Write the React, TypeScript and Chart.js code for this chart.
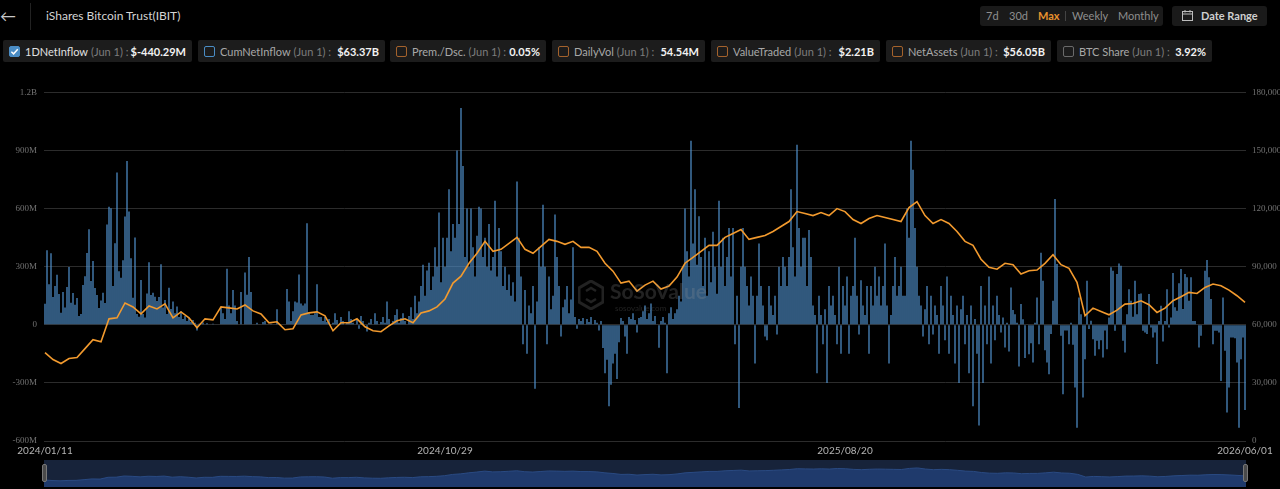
import React, { useEffect, useRef } from 'react';
import { Chart, registerables } from 'chart.js';

Chart.register(...registerables);

// Daily net inflow, millions of USD (one bar per trading day)
const netInflowM: number[] = [
  109, 385, 210, 369, 144, 200, 258, 159, 62, 169,
  89, 195, 298, 114, 164, 103, 138, 46, 56, 205,
  251, 371, 494, 226, 330, 190, 154, 87, 125, 166,
  113, 518, 610, 602, 200, 421, 786, 277, 243, 333,
  559, 846, 585, 343, 140, 451, 56, 41, 231, 56,
  38, 161, 323, 154, 166, 145, 123, 144, 313, 89,
  128, 56, 191, 82, 120, 60, 95, 40, 70, 30,
  45, 20, 35, 15, 25, 10, -30, 5, 0, 12,
  0, 8, 0, 0, 5, 0, 3, 0, 90, 60,
  30, 290, 100, 60, 180, 100, 20, 0, 170, 0,
  270, 155, 350, 170, 0, 0, 10, 0, 0, 15,
  20, 0, 0, 5, 0, 0, 80, 0, 0, 0,
  0, 185, 120, 20, 70, 120, 115, 260, 110, 100,
  110, 525, 60, 50, 50, 60, 210, 40, 40, 20,
  40, 15, 30, 0, 10, 60, 25, 0, 40, 20,
  0, 15, 70, 30, 10, 0, 25, -20, 45, 20,
  0, -35, 10, 30, 0, 60, 20, 0, 15, 40,
  10, 120, 30, 0, 20, 50, 80, 10, 35, 60,
  20, 0, 45, 90, 30, 150, 60, 120, 200, 310,
  150, 280, 320, 180, 250, 400, 300, 580, 220, 450,
  300, 450, 700, 380, 520, 450, 900, 520, 1120, 820,
  350, 600, 300, 600, 400, 250, 460, 610, 600, 350,
  450, 300, 520, 280, 350, 640, 250, 500, 380, 200,
  300, 180, 260, 150, 220, 120, 740, 450, 250, -100,
  180, -150, 100, 60, 200, -330, 120, 400, 300, 620,
  300, -100, 250, 80, 150, 570, 350, 200, -60, 90,
  130, 200, 60, 130, 400, 40, -20, 30, 20, 35,
  0, 30, 15, 40, 0, 25, 10, -30, 20, -120,
  -250, -180, -420, -310, -200, -150, -280, -90, 35, 20,
  -60, -150, 40, 30, 60, 25, -40, 35, 40, 70,
  100, 30, 60, 110, 20, 45, 0, -118, 20, 40,
  10, -250, 60, 90, 30, 60, 80, 150, 120, 300,
  600, 380, 250, 950, 420, 700, 310, 560, 350, 200,
  450, 150, 380, 220, 480, 300, 160, 640, 300, 450,
  200, 350, 500, 250, 500, -100, 150, -430, 300, 500,
  300, 200, 100, 250, 150, -200, 150, 420, 200, 100,
  -60, -80, 200, 100, 50, 150, -50, 300, 200, 350,
  300, 200, 350, 700, 400, 250, 930, 500, 300, 450,
  450, 200, 490, 350, 100, 50, -250, 150, 50, -100,
  80, -300, 200, 100, 150, 50, -100, 300, -150, 200,
  100, 250, -150, 150, 200, 450, 150, -50, 230, 100,
  50, 200, -150, 200, 100, 300, 150, 250, 100, 200,
  420, 100, -200, 50, 200, 350, 150, 200, 300, 150,
  150, 600, 450, 950, 800, 500, 300, 150, 100, -60,
  80, 200, -100, 150, -50, 100, 50, -150, 200, 100,
  -80, 250, -150, 150, 50, -200, 100, -300, 80, 150,
  -100, 50, -250, 100, -420, 30, -150, -520, 200, -300,
  100, -100, 250, -200, 100, -80, 150, 50, -40,
  38, -117, 10, -138, 193, 76, 55, 10, -215, 107,
  29, -172, 0, -152, -95, -195, 10, 141, -100, 372,
  228, -131, -195, -255, -48, 124, 650, 314, 0, -57,
  -359, -30, -30, -100, 10, -103, -324, -531, 141, 55,
  -376, -178, 228, -22, 21, -74, -160, -83, -126, -80,
  -169, -30, -126, 38, 297, 279, -31, 262, 317, 305,
  -83, -143, 55, 184, 124, 41, 228, 55, 159, 162,
  -31, -40, -48, 159, -14, -66, -40, -203, 20, 98,
  -86, 20, 184, -14, 38, 267, 90, 72, 214, 288,
  81, 262, 245, 124, 245, 20, 20, 0, -117, -57,
  0, 279, 334, 245, 133, -100, -31, -31, -40, -290,
  141, -134, -453, -324, -66, -66, -70, -195, -531, -178,
  -66, -440.29,
];

// BTC price (USD), sampled every PRICE_STEP trading days
const PRICE_STEP = 4;
const btcPrice: number[] = [
  45640, 42050, 40000, 42560, 43080, 47690, 52300, 51280, 63080, 63600,
  71280, 69230, 65640, 69740, 68200, 70770, 63590, 66670, 63590, 58460,
  63080, 62560, 69230, 68720, 68200, 70260, 67180, 65640, 61030, 61540,
  57440, 57950, 65130, 66150, 66670, 64620, 56920, 61030, 61030, 63080,
  58970, 56920, 56410, 59490, 62050, 63080, 61030, 66150, 67180, 69230,
  73330, 81540, 85130, 91790, 96920, 103080, 97950, 98970, 102050, 105130,
  98970, 96920, 100510, 104100, 103080, 101540, 103080, 100000, 100000, 97950,
  91790, 87690, 81540, 82560, 77430, 80510, 82560, 78460, 80000, 84610,
  91790, 94870, 97950, 101030, 101030, 105130, 107180, 109230, 104100, 105130,
  106150, 108200, 110770, 113330, 118460, 117430, 116410, 117950, 116410, 120000,
  118460, 114360, 112310, 114870, 116410, 115380, 114360, 113330, 120510, 123590,
  116410, 112310, 114360, 112310, 108200, 103080, 101030, 93850, 89740, 88720,
  91790, 91030, 86200, 87930, 88270, 91700, 96200, 91030, 89140, 81900,
  64650, 68620, 66900, 65170, 67590, 70690, 71030, 72410, 70340, 66380,
  68620, 72410, 74480, 76720, 76200, 79310, 81030, 80170, 77930, 75000,
  71550,
];

const xTickIndex = [0, 200, 400, 600];
const xTickLabels = ['2024/01/11', '2024/10/29', '2025/08/20', '2026/06/01'];

const seriesNames = ['1DNetInflow', 'CumNetInflow', 'Prem./Dsc.', 'DailyVol', 'ValueTraded', 'NetAssets', 'BTC Share'];
const seriesValues = ['$-440.29M', '$63.37B', '0.05%', '54.54M', '$2.21B', '$56.05B', '3.92%'];
const seriesChecked = [true, false, false, false, false, false, false];
const seriesDate = '(Jun 1) :';
const rangeButtons = ['7d', '30d', 'Max', 'Weekly', 'Monthly'];

// layout only (chip left / width in px)
const chipBoxes: [number, number][] = [[3, 189], [198, 187], [390, 156], [552, 153], [711, 169], [886, 165], [1057, 155]];
const chipColors = ['#4a8cc4', '#4a8cc4', '#a4622c', '#a4622c', '#a4622c', '#a4622c', '#6a6a6a'];

const FONT = 'Lato, "Noto Sans", sans-serif';
const AXIS_FONT = '"Liberation Serif", serif';

export default function App() {
  const mainRef = useRef<HTMLCanvasElement | null>(null);
  const navRef = useRef<HTMLCanvasElement | null>(null);

  useEffect(() => {
    document.body.style.margin = '0';
    document.body.style.background = '#000';
    const n = netInflowM.length;
    const barData = netInflowM.map((v, i) => ({ x: i, y: v }));
    const priceData = btcPrice.map((v, k) => ({ x: k * PRICE_STEP, y: v }));

    const main = new Chart(mainRef.current as HTMLCanvasElement, {
      type: 'bar',
      data: {
        datasets: [
          {
            type: 'line',
            data: priceData,
            yAxisID: 'y1',
            borderColor: '#f29a2e',
            borderWidth: 1.6,
            pointRadius: 0,
            tension: 0,
            order: 0,
          } as any,
          {
            type: 'bar',
            data: barData,
            yAxisID: 'y',
            backgroundColor: '#4f8fca',
            barPercentage: 0.62,
            categoryPercentage: 1,
            order: 1,
          } as any,
        ],
      },
      options: {
        animation: false,
        responsive: false,
        maintainAspectRatio: false,
        layout: { padding: { top: 10, left: 0, right: 0, bottom: 0 } },
        plugins: { legend: { display: false }, tooltip: { enabled: false } },
        scales: {
          x: {
            type: 'linear',
            offset: false,
            min: -0.5,
            max: n - 0.5,
            grid: { display: false, drawTicks: false, offset: false },
            border: { display: false },
            afterBuildTicks: (s: any) => {
              s.ticks = xTickIndex.map((v) => ({ value: v }));
            },
            afterFit: (s: any) => {
              s.height = 19;
            },
            ticks: {
              autoSkip: false,
              maxRotation: 0,
              padding: 4,
              color: '#b4b4b4',
              font: { family: FONT, size: 10 },
              callback: (v: any) => {
                const idx = xTickIndex.indexOf(Number(v));
                return idx >= 0 ? xTickLabels[idx] : '';
              },
            },
          },
          y: {
            position: 'left',
            min: -600,
            max: 1200,
            grid: { color: '#2c2c2c', drawTicks: false, lineWidth: 1 },
            border: { display: false },
            afterFit: (s: any) => {
              s.width = 44;
            },
            ticks: {
              stepSize: 300,
              padding: 7,
              color: '#727272',
              font: { family: AXIS_FONT, size: 9 },
              callback: (v: any) => {
                const num = Number(v);
                if (num === 0) return '0';
                if (Math.abs(num) >= 1000) return num / 1000 + 'B';
                return num + 'M';
              },
            },
          },
          y1: {
            position: 'right',
            min: 0,
            max: 180000,
            grid: { display: false, drawTicks: false },
            border: { display: false },
            afterFit: (s: any) => {
              s.width = 34;
            },
            ticks: {
              stepSize: 30000,
              padding: 6,
              color: '#727272',
              font: { family: AXIS_FONT, size: 9 },
              callback: (v: any) => Number(v).toLocaleString('en-US'),
            },
          },
        },
      },
    });

    const nav = new Chart(navRef.current as HTMLCanvasElement, {
      type: 'line',
      data: {
        datasets: [
          {
            data: priceData,
            borderColor: '#2a4a82',
            borderWidth: 1,
            backgroundColor: '#1f3a6c',
            fill: 'origin',
            pointRadius: 0,
            tension: 0,
          },
        ],
      },
      options: {
        animation: false,
        responsive: false,
        maintainAspectRatio: false,
        layout: { padding: 0 },
        plugins: { legend: { display: false }, tooltip: { enabled: false } },
        scales: {
          x: { type: 'linear', display: false, offset: false, min: 0, max: n - 1 },
          y: { display: false, min: 0, max: 175000 },
        },
      },
    });

    return () => {
      main.destroy();
      nav.destroy();
    };
  }, []);

  const check = (
    <svg width="9" height="9" viewBox="0 0 10 10" style={{ display: 'block' }}>
      <path d="M1.5 5.2 L4 7.6 L8.6 2.4" stroke="#fff" strokeWidth="1.6" fill="none" />
    </svg>
  );

  return (
    <div
      style={{
        position: 'absolute',
        left: 0,
        top: 0,
        width: 1280,
        height: 489,
        background: '#000',
        overflow: 'hidden',
        fontFamily: FONT,
      }}
    >
      {/* header */}
      <div style={{ position: 'absolute', left: 0, top: 6, color: '#c8c8c8', fontSize: 16, lineHeight: '20px' }}>←</div>
      <div style={{ position: 'absolute', left: 30, top: 3, width: 1, height: 27, background: '#222' }} />
      <div style={{ position: 'absolute', left: 46, top: 8, color: '#d4d4d4', fontSize: 12, lineHeight: '16px' }}>
        iShares Bitcoin Trust(IBIT)
      </div>

      <div
        style={{
          position: 'absolute',
          left: 980,
          top: 6,
          width: 183,
          height: 20,
          background: '#1a1a1a',
          borderRadius: 3,
          fontSize: 11,
          lineHeight: '20px',
          color: '#8e8e8e',
        }}
      >
        {rangeButtons.map((b, i) => {
          const lefts = [6, 29, 58, 92, 138];
          return (
            <span
              key={b}
              style={{
                position: 'absolute',
                left: lefts[i],
                color: b === 'Max' ? '#e8912d' : '#8e8e8e',
                fontWeight: b === 'Max' ? 700 : 400,
              }}
            >
              {b}
            </span>
          );
        })}
        <span style={{ position: 'absolute', left: 85, top: 5, width: 1, height: 10, background: '#444' }} />
      </div>
      <div
        style={{
          position: 'absolute',
          left: 1172,
          top: 6,
          width: 95,
          height: 20,
          background: '#1a1a1a',
          borderRadius: 3,
          fontSize: 11,
          lineHeight: '20px',
          color: '#cfcfcf',
          fontWeight: 700,
        }}
      >
        <svg width="11" height="11" viewBox="0 0 11 11" style={{ position: 'absolute', left: 10, top: 4 }}>
          <rect x="0.5" y="1.5" width="10" height="9" fill="none" stroke="#bdbdbd" strokeWidth="1" />
          <line x1="0.5" y1="4" x2="10.5" y2="4" stroke="#bdbdbd" strokeWidth="1" />
          <line x1="3" y1="0" x2="3" y2="2.5" stroke="#bdbdbd" strokeWidth="1" />
          <line x1="8" y1="0" x2="8" y2="2.5" stroke="#bdbdbd" strokeWidth="1" />
        </svg>
        <span style={{ position: 'absolute', left: 29 }}>Date Range</span>
      </div>

      {/* legend chips */}
      {seriesNames.map((name, i) => (
        <div
          key={name}
          style={{
            position: 'absolute',
            left: chipBoxes[i][0],
            top: 40,
            width: chipBoxes[i][1],
            height: 22,
            background: '#1c1c1c',
            borderRadius: 2,
            display: 'flex',
            alignItems: 'center',
            padding: '0 6px',
            boxSizing: 'border-box',
            fontSize: 11,
            whiteSpace: 'nowrap',
          }}
        >
          <span
            style={{
              width: 11,
              height: 11,
              boxSizing: 'border-box',
              border: `1px solid ${chipColors[i]}`,
              background: seriesChecked[i] ? chipColors[i] : 'transparent',
              borderRadius: 2,
              marginRight: 5,
              display: 'flex',
              alignItems: 'center',
              justifyContent: 'center',
              flex: '0 0 auto',
            }}
          >
            {seriesChecked[i] ? check : null}
          </span>
          <span style={{ color: seriesChecked[i] ? '#e0e0e0' : '#a8a8a8' }}>{name}</span>
          <span style={{ color: '#7c7c7c', marginLeft: 3 }}>{seriesDate}</span>
          <span style={{ color: '#f2f2f2', fontWeight: 700, marginLeft: 'auto' }}>{seriesValues[i]}</span>
        </div>
      ))}

      {/* main chart */}
      <canvas
        ref={mainRef}
        width={1280}
        height={380}
        style={{ position: 'absolute', left: 0, top: 80, width: 1280, height: 380 }}
      />

      {/* watermark */}
      <div style={{ position: 'absolute', left: 578, top: 278, pointerEvents: 'none', opacity: 0.22 }}>
        <svg width="26" height="30" viewBox="0 0 26 30" style={{ position: 'absolute', left: 0, top: 2 }}>
          <polygon points="13,1 25,8 25,22 13,29 1,22 1,8" fill="none" stroke="#9a9a9a" strokeWidth="3" />
          <path d="M8 11 L13 8 L18 11 M8 19 L13 22 L18 19" stroke="#9a9a9a" strokeWidth="2.5" fill="none" />
        </svg>
        <div style={{ position: 'absolute', left: 32, top: 0, fontSize: 21, fontWeight: 700, color: '#9a9a9a', whiteSpace: 'nowrap' }}>
          SoSoValue
        </div>
        <div style={{ position: 'absolute', left: 37, top: 25, fontSize: 8, color: '#9a9a9a', whiteSpace: 'nowrap' }}>
          sosovalue.com
        </div>
      </div>

      {/* navigator */}
      <div style={{ position: 'absolute', left: 44, top: 460, width: 1202, height: 27, background: '#17233a' }}>
        <canvas ref={navRef} width={1202} height={27} style={{ position: 'absolute', left: 0, top: 0, width: 1202, height: 27 }} />
      </div>
      <div style={{ position: 'absolute', left: 42, top: 464, width: 5, height: 18, background: '#4a4a4a', border: '1px solid #777', borderRadius: 2, boxSizing: 'border-box' }} />
      <div style={{ position: 'absolute', left: 1243, top: 464, width: 5, height: 18, background: '#4a4a4a', border: '1px solid #777', borderRadius: 2, boxSizing: 'border-box' }} />
    </div>
  );
}
